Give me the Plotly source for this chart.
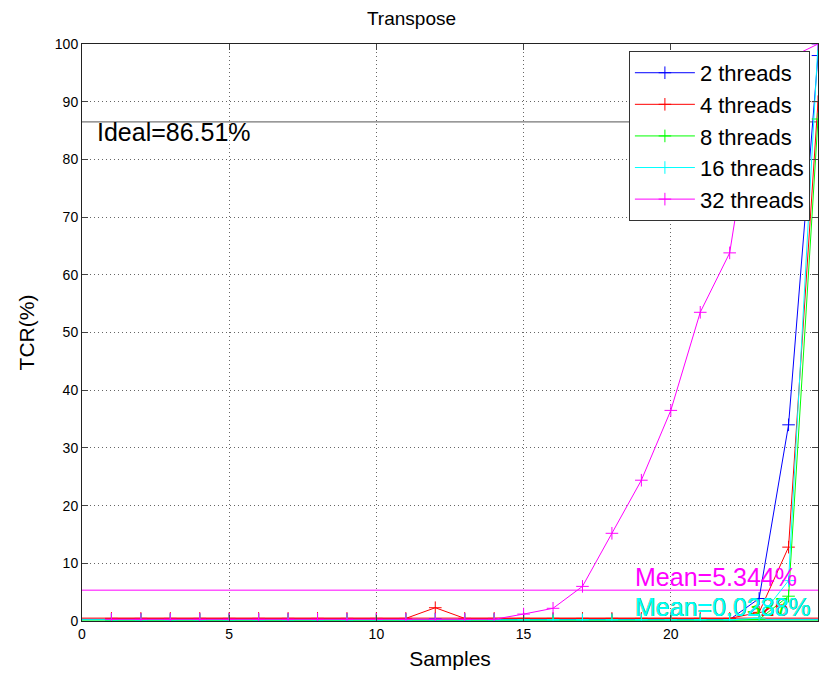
import plotly.graph_objects as go

samples = list(range(1, 26))
t2 = [0.25]*11 + [0.35] + [0.25]*10 + [3.9, 34.0, 98.0]
t4 = [0.45]*11 + [2.3] + [0.45]*10 + [1.5, 12.8, 90.0]
t8 = [0.15]*22 + [0.3, 4.3, 87.0]
t16 = [0.2]*22 + [0.5, 7.0, 100.0]
t32 = [0.3]*14 + [1.2, 2.2, 6.0, 15.2, 24.4, 36.5, 53.5, 63.8, 96.0, 97.5, 100.0]

series_names = ["2 threads", "4 threads", "8 threads", "16 threads", "32 threads"]
series_vals = [t2, t4, t8, t16, t32]
colors = ["#0000ff", "#ff0000", "#00ff00", "#00ffff", "#ff00ff"]
mean_vals = [0.3, 0.5, 0.15, 0.22, 5.344]
mean_labels = ["Mean=0.0238%", "Mean=0.0326%", "Mean=0.0337%", "Mean=0.0288%", "Mean=5.344%"]
ideal_val = 86.51
ideal_label = "Ideal=86.51%"

FONT = "Liberation Sans, Arial, Helvetica, sans-serif"

fig = go.Figure()
for name, vals, col in zip(series_names, series_vals, colors):
    fig.add_trace(go.Scatter(
        x=samples, y=vals, name=name, mode="lines+markers",
        line=dict(color=col, width=1),
        marker=dict(symbol="cross-thin", size=9, line=dict(color=col, width=1)),
    ))

shapes = []
shapes.append(dict(type="line", xref="x", yref="y", x0=0, x1=25, y0=ideal_val, y1=ideal_val,
                   line=dict(color="#777777", width=1.3), layer="below"))
for mv, col in zip(mean_vals, colors):
    shapes.append(dict(type="line", xref="x", yref="y", x0=0, x1=25, y0=mv, y1=mv,
                       line=dict(color=col, width=1), layer="below"))

annotations = [dict(x=0.45, y=ideal_val, xref="x", yref="y", text=ideal_label, showarrow=False,
                    xanchor="left", yanchor="top", yshift=6,
                    font=dict(family=FONT, size=25, color="black"))]
for i, (lab, col) in enumerate(zip(mean_labels, colors)):
    yv = 5.344 if i == 4 else 0.2
    annotations.append(dict(x=18.7, y=yv, xref="x", yref="y", text=lab, showarrow=False,
                            xanchor="left", yanchor="bottom", yshift=-3,
                            font=dict(family=FONT, size=25, color=col)))

fig.update_layout(
    width=823, height=675,
    margin=dict(l=82, r=5, t=44, b=54),
    paper_bgcolor="white", plot_bgcolor="white",
    title=dict(text="Transpose", x=0.5, xanchor="center", y=0.982, yanchor="top",
               font=dict(family=FONT, size=19, color="black")),
    font=dict(family=FONT, color="black"),
    shapes=shapes, annotations=annotations,
    legend=dict(x=0.989, y=0.988, xanchor="right", yanchor="top",
                bgcolor="white", bordercolor="#333333", borderwidth=1,
                font=dict(family=FONT, size=22, color="black"), tracegroupgap=0,
                itemwidth=60),
    showlegend=True,
)
fig.update_xaxes(range=[0, 25], tickvals=[0, 5, 10, 15, 20, 25], ticks="inside", ticklen=6,
                 showline=True, linecolor="#222222", mirror="ticks", showgrid=True,
                 gridcolor="#666666", griddash="1px,3px", gridwidth=1, zeroline=False,
                 tickfont=dict(family=FONT, size=14, color="black"),
                 title=dict(text="Samples", font=dict(family=FONT, size=21, color="black"), standoff=10))
fig.update_yaxes(range=[0, 100], tickvals=list(range(0, 101, 10)), ticks="inside", ticklen=6,
                 showline=True, linecolor="#222222", mirror="ticks", showgrid=True,
                 gridcolor="#666666", griddash="1px,3px", gridwidth=1, zeroline=False,
                 tickfont=dict(family=FONT, size=14, color="black"),
                 title=dict(text="TCR(%)", font=dict(family=FONT, size=21, color="black"), standoff=14))

fig.write_html("out.html")
